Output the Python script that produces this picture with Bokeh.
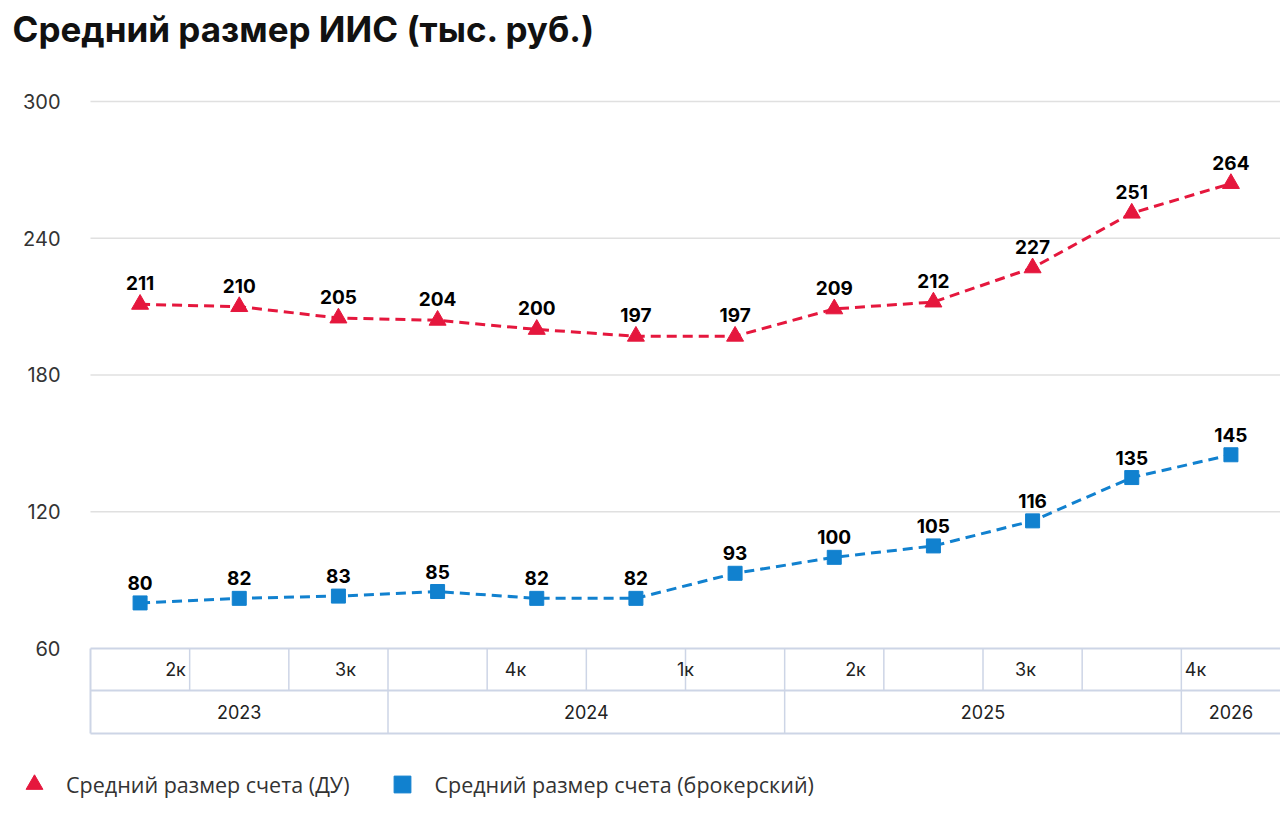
from bokeh.plotting import figure
from bokeh.models import Range1d, FixedTicker, Legend, LegendItem, ColumnDataSource, Title
from bokeh.core.properties import value
from bokeh.embed import file_html
from bokeh.resources import INLINE

# ---- data ----
period_years = ["2023", "2023", "2023",
                "2024", "2024", "2024", "2024",
                "2025", "2025", "2025", "2025",
                "2026"]
quarter_labels = ["2к", "3к", "4к", "1к", "2к", "3к", "4к"]
year_labels = ["2023", "2024", "2025", "2026"]
du_values = [211, 210, 205, 204, 200, 197, 197, 209, 212, 227, 251, 264]
broker_values = [80, 82, 83, 85, 82, 82, 93, 100, 105, 116, 135, 145]
y_ticks = [60, 120, 180, 240, 300]
series_names = ["Средний размер счета (ДУ)", "Средний размер счета (брокерский)"]
title_text = "Средний размер ИИС (тыс. руб.)"

RED = "#E5173D"
BLUE = "#1181CF"
GRID = "#e0e0e0"
TABLE = "#cdd5e6"

n = len(period_years)
xs = [i + 0.5 for i in range(n)]

# layout constants
LEFT_PX = 90
X_START = -LEFT_PX / (1190 / n)
Y_TOP, Y_BOT = 309.21, -13.71
ROW1_TOP = y_ticks[0]
ROW_MID = 41.6
ROW_BOT = 22.75

p = figure(width=1280, height=816, x_range=Range1d(X_START, n), y_range=Range1d(Y_BOT, Y_TOP),
           output_backend="svg", toolbar_location=None, title=None,
           min_border_left=0, min_border_right=0, min_border_top=80, min_border_bottom=0)
p.outline_line_color = None
p.background_fill_color = "white"
p.border_fill_color = "white"

p.add_layout(Title(text=" ", text_font_size="12px"), "above")
p.add_layout(Title(text=title_text, text_font="Inter", text_font_style="bold",
                   text_font_size="35px", text_color="#111111", offset=12), "above")

p.xaxis.visible = False
p.xgrid.grid_line_color = None
p.ygrid.grid_line_color = None
p.yaxis.fixed_location = 0
p.yaxis.ticker = FixedTicker(ticks=y_ticks)
p.yaxis.axis_line_color = None
p.yaxis.major_tick_line_color = None
p.yaxis.minor_tick_line_color = None
p.yaxis.major_label_text_font = "Inter"
p.yaxis.major_label_text_font_size = "20px"
p.yaxis.major_label_text_color = "#333333"
p.yaxis.major_label_standoff = 24

# horizontal grid lines at the y ticks
gt = y_ticks[1:]
p.segment(x0=[0] * len(gt), x1=[n] * len(gt), y0=gt, y1=gt, line_color=GRID, line_width=1.5)

# ---- table under plot ----
p.segment(x0=[0, 0, 0], x1=[n, n, n], y0=[ROW1_TOP, ROW_MID, ROW_BOT], y1=[ROW1_TOP, ROW_MID, ROW_BOT],
          line_color=TABLE, line_width=2)
p.segment(x0=[0], x1=[0], y0=[ROW1_TOP], y1=[ROW_BOT], line_color=TABLE, line_width=2)
p.segment(x0=list(range(1, n)), x1=list(range(1, n)), y0=[ROW1_TOP] * (n - 1), y1=[ROW_MID] * (n - 1),
          line_color=TABLE, line_width=1.5)
bounds = []
centers = []
start = 0
for i in range(1, n + 1):
    if i == n or period_years[i] != period_years[i - 1]:
        centers.append((start + i) / 2)
        if i < n:
            bounds.append(i)
        start = i
p.segment(x0=bounds, x1=bounds, y0=[ROW_MID] * len(bounds), y1=[ROW_BOT] * len(bounds),
          line_color=TABLE, line_width=1.5)

nq = len(quarter_labels)
qx = [(i + 0.5) * n / nq for i in range(nq)]
p.text(x=qx, y=[(ROW1_TOP + ROW_MID) / 2] * nq, text=quarter_labels,
       text_font=value("Inter"), text_font_size="18px", text_color="#222222",
       text_align="center", text_baseline="middle")
p.text(x=centers, y=[(ROW_MID + ROW_BOT) / 2] * len(centers), text=year_labels,
       text_font=value("Inter"), text_font_size="18px", text_color="#222222",
       text_align="center", text_baseline="middle")

# ---- series ----
src = ColumnDataSource(dict(x=xs, du=du_values, br=broker_values,
                            dut=[str(v) for v in du_values], brt=[str(v) for v in broker_values]))
p.line("x", "du", source=src, line_color=RED, line_width=3, line_dash="10 6")
p.line("x", "br", source=src, line_color=BLUE, line_width=3, line_dash="10 6")
r1 = p.scatter("x", "du", source=src, marker="triangle", size=17, fill_color=RED, line_color=RED)
r2 = p.scatter("x", "br", source=src, marker="square", size=14, fill_color=BLUE, line_color=BLUE)
p.text("x", "du", text="dut", source=src, text_font=value("Inter"), text_font_style="bold",
       text_font_size="19px", text_color="#000000", text_align="center", text_baseline="bottom", y_offset=-14)
p.text("x", "br", text="brt", source=src, text_font=value("Inter"), text_font_style="bold",
       text_font_size="19px", text_color="#000000", text_align="center", text_baseline="bottom", y_offset=-13)

legend = Legend(items=[LegendItem(label=series_names[0], renderers=[r1]),
                       LegendItem(label=series_names[1], renderers=[r2])],
                orientation="horizontal", location=(13, 11))
legend.label_text_font = "Open Sans"
legend.label_text_font_size = "21.5px"
legend.label_text_color = "#333333"
legend.border_line_color = None
legend.background_fill_alpha = 0
legend.glyph_width = 42
legend.glyph_height = 42
legend.label_standoff = 11
legend.spacing = 32
legend.padding = 6
legend.margin = 0
p.add_layout(legend, "center")

open("out.html", "w").write(file_html(p, INLINE))
